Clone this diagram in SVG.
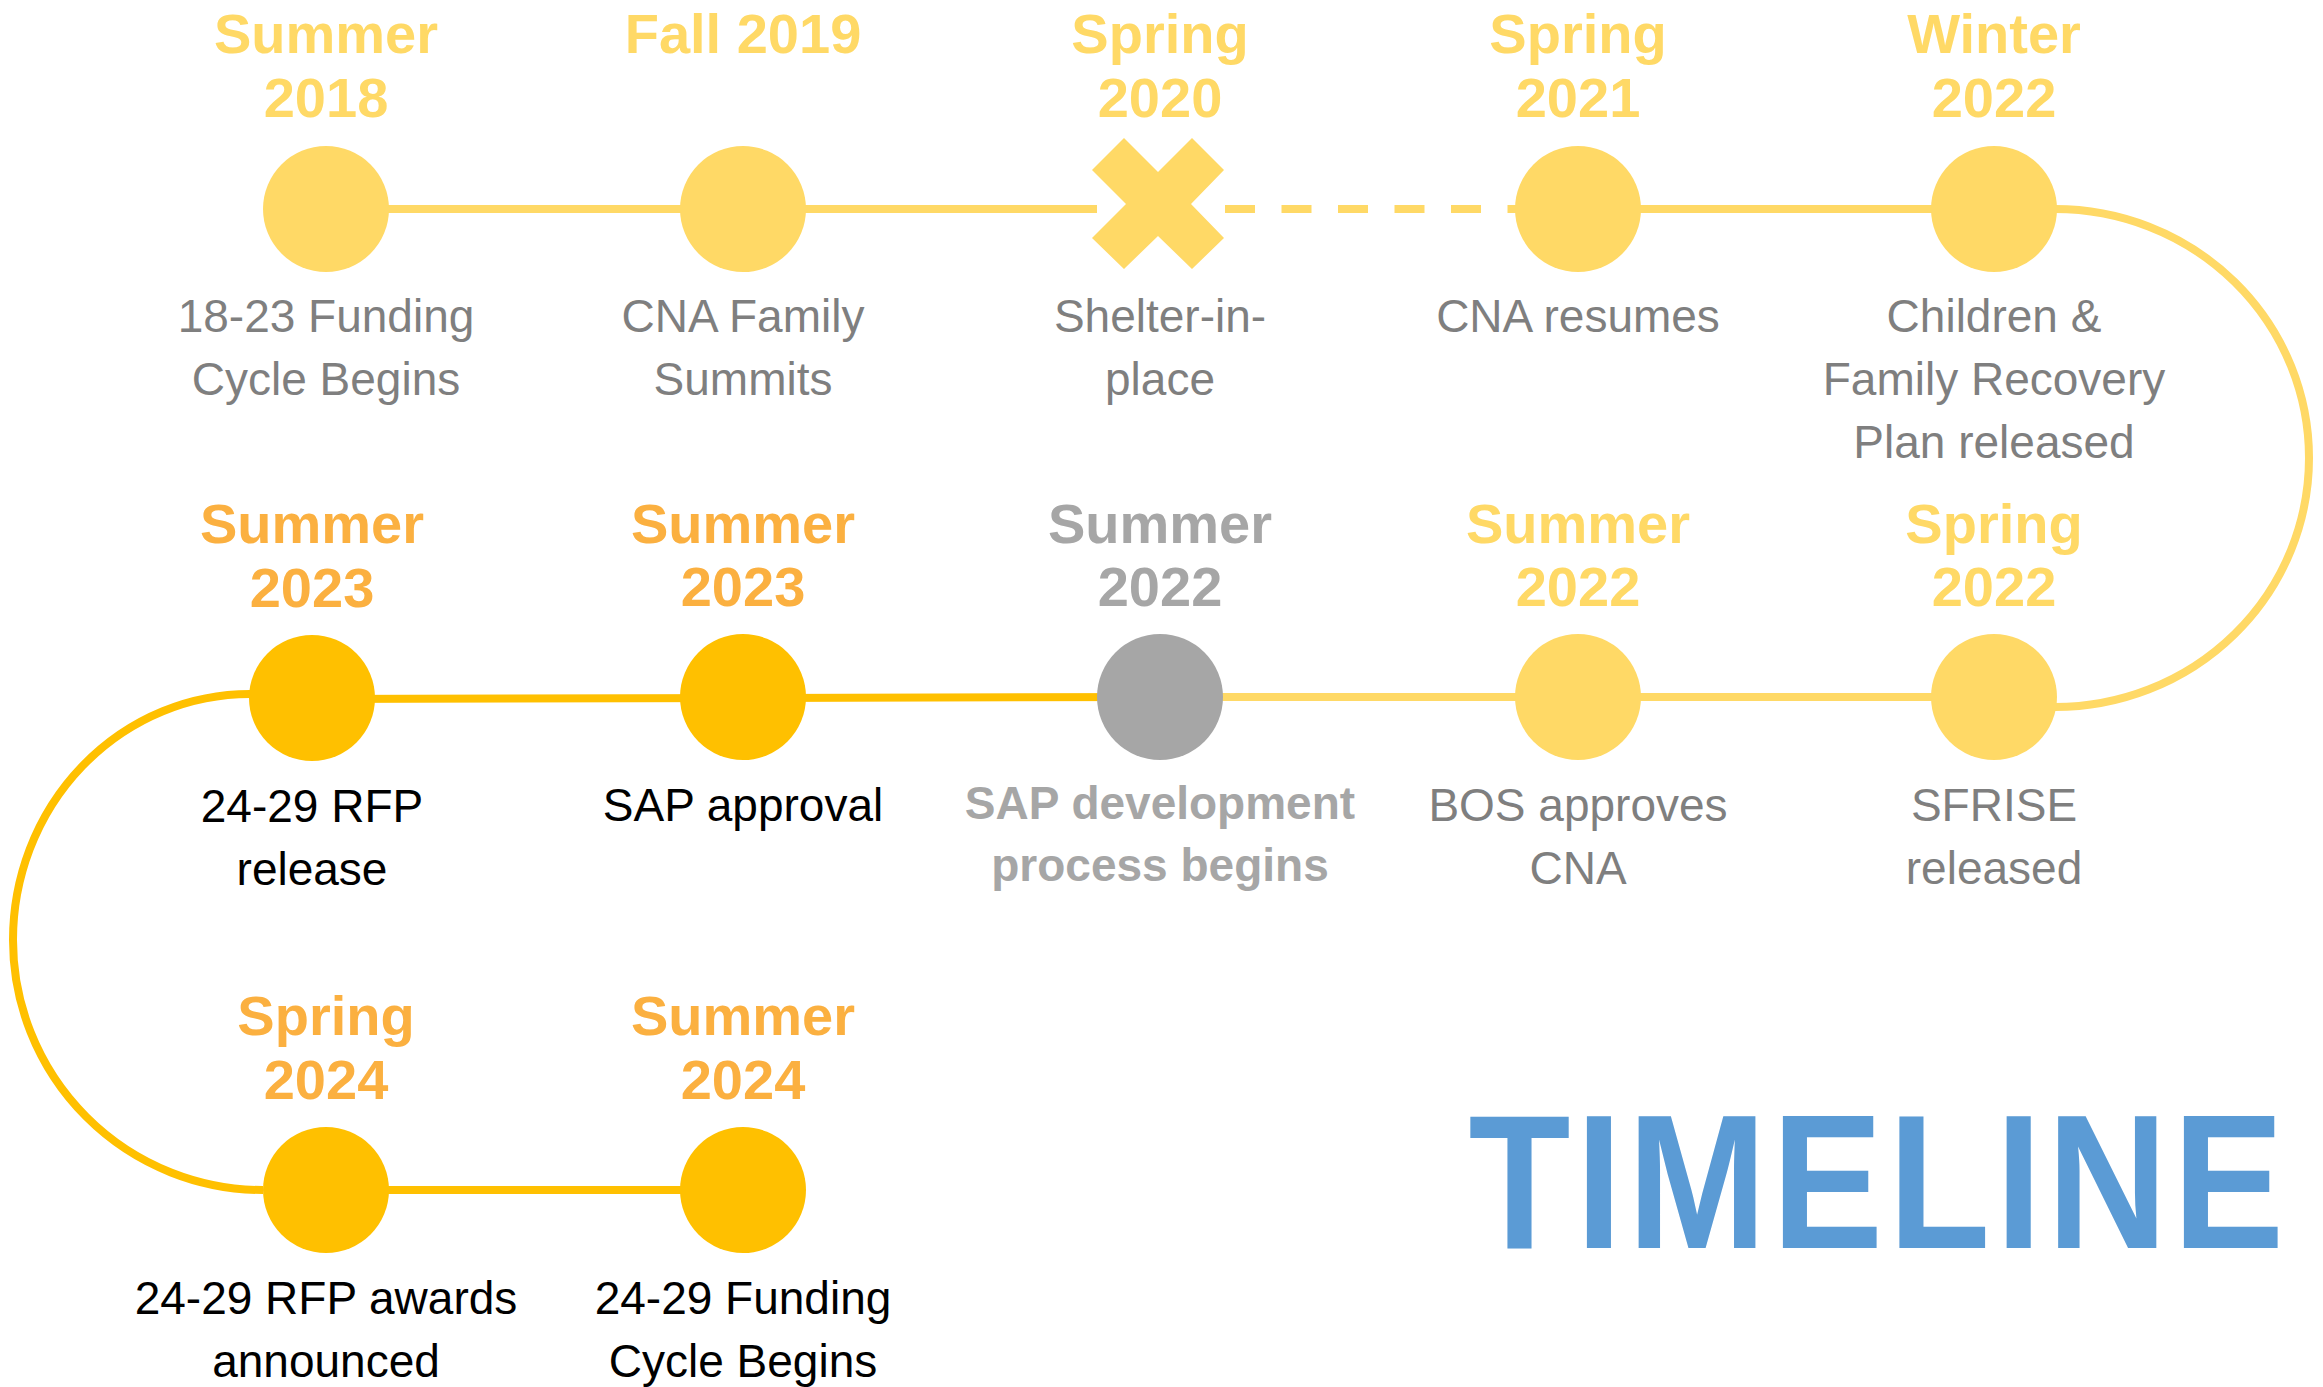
<svg xmlns="http://www.w3.org/2000/svg" width="2323" height="1387" viewBox="0 0 2323 1387">
<style>
.date{font-family:"Liberation Sans",Arial,sans-serif;font-weight:bold;font-size:56px;text-anchor:middle}
.desc{font-family:"Liberation Sans",Arial,sans-serif;font-size:46px;text-anchor:middle;fill:#7F7F7F}
.lt{fill:#FFD966}
.or{fill:#FBB040}
.gr{fill:#A6A6A6}
.bk{fill:#000000}
.c1{fill:#FFD966}
.c2{fill:#FFC000}
.c3{fill:#A6A6A6}
.l1{stroke:#FFD966;stroke-width:8;fill:none}
.l2{stroke:#FFC000;stroke-width:8;fill:none}
</style>
<rect width="2323" height="1387" fill="#FFFFFF"/>
<g id="connectors">
<line class="l1" x1="326" y1="209" x2="1097" y2="209"/>
<line class="l1" x1="1225" y1="209" x2="1517" y2="209" stroke-dasharray="30 26.5"/>
<line class="l1" x1="1578" y1="209" x2="1994" y2="209"/>
<path class="l1" d="M 2055 209 A 254 249 0 0 1 2309 458 A 254 249 0 0 1 2055 707"/>
<line class="l1" x1="1160" y1="697" x2="1994" y2="697"/>
<line class="l2" x1="311" y1="699" x2="1160" y2="697"/>
<path class="l2" d="M 250 694 A 237 246 0 0 0 13 940 A 250 250 0 0 0 263 1190"/>
<line class="l2" x1="326" y1="1190" x2="743" y2="1190"/>
</g>
<g id="n-summer2018">
<circle class="c1" cx="326" cy="209" r="63"/>
<text class="date lt" x="326" y="53">Summer</text>
<text class="date lt" x="326" y="117">2018</text>
<text class="desc" x="326" y="332">18-23 Funding</text>
<text class="desc" x="326" y="395">Cycle Begins</text>
</g>
<g id="n-fall2019">
<circle class="c1" cx="743" cy="209" r="63"/>
<text class="date lt" x="743" y="53">Fall 2019</text>
<text class="desc" x="743" y="332">CNA Family</text>
<text class="desc" x="743" y="395">Summits</text>
</g>
<g id="n-spring2020">
<polygon class="c1" points="1124,138 1158,172 1192,138 1224,170 1191,204 1224,238 1192,269 1158,236 1124,269 1092,238 1126,204 1092,170"/>
<text class="date lt" x="1160" y="53">Spring</text>
<text class="date lt" x="1160" y="117">2020</text>
<text class="desc" x="1160" y="332">Shelter-in-</text>
<text class="desc" x="1160" y="395">place</text>
</g>
<g id="n-spring2021">
<circle class="c1" cx="1578" cy="209" r="63"/>
<text class="date lt" x="1578" y="53">Spring</text>
<text class="date lt" x="1578" y="117">2021</text>
<text class="desc" x="1578" y="332">CNA resumes</text>
</g>
<g id="n-winter2022">
<circle class="c1" cx="1994" cy="209" r="63"/>
<text class="date lt" x="1994" y="53">Winter</text>
<text class="date lt" x="1994" y="117">2022</text>
<text class="desc" x="1994" y="332">Children &amp;</text>
<text class="desc" x="1994" y="395">Family Recovery</text>
<text class="desc" x="1994" y="458">Plan released</text>
</g>
<g id="n-spring2022">
<circle class="c1" cx="1994" cy="697" r="63"/>
<text class="date lt" x="1994" y="543">Spring</text>
<text class="date lt" x="1994" y="606">2022</text>
<text class="desc" x="1994" y="821">SFRISE</text>
<text class="desc" x="1994" y="884">released</text>
</g>
<g id="n-summer2022-bos">
<circle class="c1" cx="1578" cy="697" r="63"/>
<text class="date lt" x="1578" y="543">Summer</text>
<text class="date lt" x="1578" y="606">2022</text>
<text class="desc" x="1578" y="821">BOS approves</text>
<text class="desc" x="1578" y="884">CNA</text>
</g>
<g id="n-summer2022-sap">
<circle class="c3" cx="1160" cy="697" r="63"/>
<text class="date gr" x="1160" y="543">Summer</text>
<text class="date gr" x="1160" y="606">2022</text>
<text class="desc gr" x="1160" y="819" font-weight="bold">SAP development</text>
<text class="desc gr" x="1160" y="881" font-weight="bold">process begins</text>
</g>
<g id="n-summer2023-sap">
<circle class="c2" cx="743" cy="697" r="63"/>
<text class="date or" x="743" y="543">Summer</text>
<text class="date or" x="743" y="606">2023</text>
<text class="desc bk" x="743" y="821">SAP approval</text>
</g>
<g id="n-summer2023-rfp">
<circle class="c2" cx="312" cy="698" r="63"/>
<text class="date or" x="312" y="543">Summer</text>
<text class="date or" x="312" y="607">2023</text>
<text class="desc bk" x="312" y="822">24-29 RFP</text>
<text class="desc bk" x="312" y="885">release</text>
</g>
<g id="n-spring2024">
<circle class="c2" cx="326" cy="1190" r="63"/>
<text class="date or" x="326" y="1035">Spring</text>
<text class="date or" x="326" y="1099">2024</text>
<text class="desc bk" x="326" y="1314">24-29 RFP awards</text>
<text class="desc bk" x="326" y="1377">announced</text>
</g>
<g id="n-summer2024">
<circle class="c2" cx="743" cy="1190" r="63"/>
<text class="date or" x="743" y="1035">Summer</text>
<text class="date or" x="743" y="1099">2024</text>
<text class="desc bk" x="743" y="1314">24-29 Funding</text>
<text class="desc bk" x="743" y="1377">Cycle Begins</text>
</g>
<g id="title">
<text transform="translate(1879 1248) scale(0.874 1)" x="0" y="0" font-family="'Liberation Sans',Arial,sans-serif" font-weight="bold" font-size="191" fill="#5B9BD5" text-anchor="middle" letter-spacing="6">TIMELINE</text>
</g>
</svg>
